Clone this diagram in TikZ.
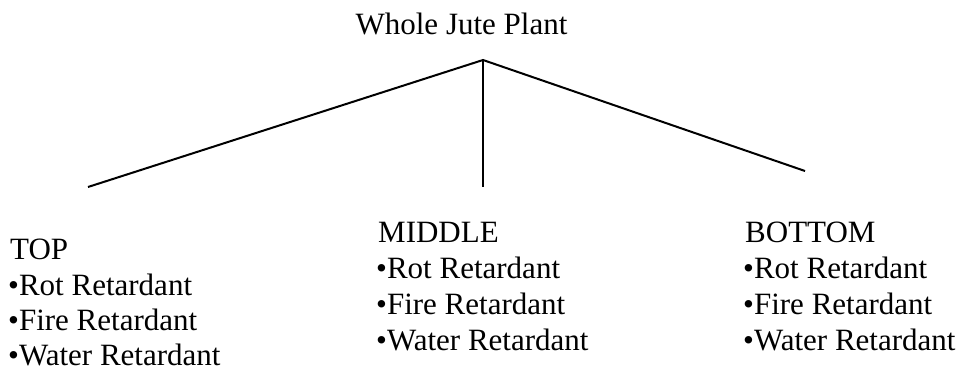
\documentclass[tikz,border=0pt]{standalone}
\usepackage{fontspec}
\setmainfont{Liberation Serif}
\begin{document}
\begin{tikzpicture}[x=1pt,y=-1pt,
  lbl/.style={anchor=base west,inner sep=0pt,font=\fontsize{31}{36}\selectfont},
  ttl/.style={anchor=base,inner sep=0pt,font=\fontsize{31}{36}\selectfont},
  branch/.style={line width=2pt}]
\useasboundingbox (0,0) rectangle (968,371);
\node[ttl] (title) at (461.5,35) {Whole Jute Plant};
\coordinate (apex) at (483,60);
\coordinate (lend) at (88,187);
\coordinate (mend) at (483,187);
\coordinate (rend) at (805,171);
\draw[branch] (lend) -- (apex) -- (rend);
\draw[branch] (apex) -- (mend);
% TOP
\node[lbl] (top) at (10,259) {TOP};
\node[lbl] (top1) at (8,295) {•Rot Retardant};
\node[lbl] (top2) at (8,330) {•Fire Retardant};
\node[lbl] (top3) at (8,365) {•Water Retardant};
% MIDDLE
\node[lbl] (mid) at (378,243) {MIDDLE};
\node[lbl] (mid1) at (376,278) {•Rot Retardant};
\node[lbl] (mid2) at (376,314) {•Fire Retardant};
\node[lbl] (mid3) at (376,350) {•Water Retardant};
% BOTTOM
\node[lbl] (bot) at (745,243) {BOTTOM};
\node[lbl] (bot1) at (743,278) {•Rot Retardant};
\node[lbl] (bot2) at (743,314) {•Fire Retardant};
\node[lbl] (bot3) at (743,350) {•Water Retardant};
\end{tikzpicture}
\end{document}
